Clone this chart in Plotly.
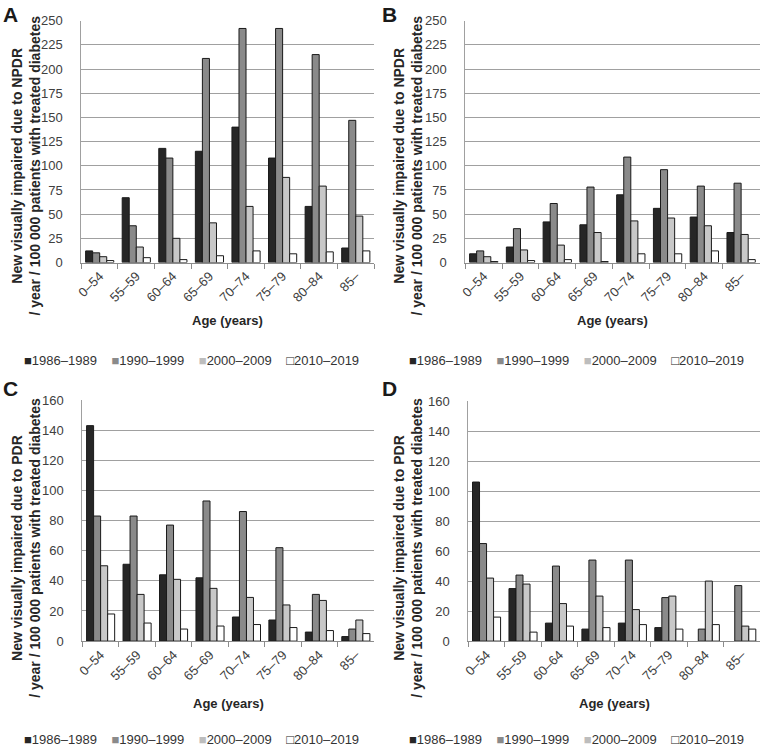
import plotly.graph_objects as go

# ---------------- data ----------------
age_groups = ["0–54", "55–59", "60–64", "65–69", "70–74", "75–79", "80–84", "85–"]
periods = ["1986–1989", "1990–1999", "2000–2009", "2010–2019"]

# Panel A: NPDR
a_1986_1989 = [12, 67, 118, 115, 140, 108, 58, 15]
a_1990_1999 = [10, 38, 108, 211, 242, 242, 215, 147]
a_2000_2009 = [6, 16, 25, 41, 58, 88, 79, 48]
a_2010_2019 = [2, 5, 3, 7, 12, 9, 11, 12]

# Panel B: NPDR
b_1986_1989 = [9, 16, 42, 39, 70, 56, 47, 31]
b_1990_1999 = [12, 35, 61, 78, 109, 96, 79, 82]
b_2000_2009 = [6, 13, 18, 31, 43, 46, 38, 29]
b_2010_2019 = [1, 2, 3, 1, 9, 9, 12, 3]

# Panel C: PDR
c_1986_1989 = [143, 51, 44, 42, 16, 14, 6, 3]
c_1990_1999 = [83, 83, 77, 93, 86, 62, 31, 8]
c_2000_2009 = [50, 31, 41, 35, 29, 24, 27, 14]
c_2010_2019 = [18, 12, 8, 10, 11, 9, 7, 5]

# Panel D: PDR
d_1986_1989 = [106, 35, 12, 8, 12, 9, None, None]
d_1990_1999 = [65, 44, 50, 54, 54, 29, 8, 37]
d_2000_2009 = [42, 38, 25, 30, 21, 30, 40, 10]
d_2010_2019 = [16, 6, 10, 9, 11, 8, 11, 8]

panel_letters = ["A", "B", "C", "D"]
y_titles = [
    "New visually impaired due to NPDR<br>/ year / 100 000 patients with treated diabetes",
    "New visually impaired due to NPDR<br>/ year / 100 000 patients with treated diabetes",
    "New visually impaired due to PDR<br>/ year / 100 000 patients with treated diabetes",
    "New visually impaired due to PDR<br>/ year / 100 000 patients with treated diabetes",
]
x_title = "Age (years)"
y_ranges = [[0, 250], [0, 250], [0, 160], [0, 160]]
y_dticks = [25, 25, 20, 20]

# ---------------- styling ----------------
W, H = 760, 753
bar_colors = ["#262626", "#8a8a8a", "#c8c8c8", "#ffffff"]
legend_glyph_colors = ["#262626", "#8a8a8a", "#bdbdbd", "#262626"]
legend_glyphs = ["■", "■", "■", "□"]
FONT = "Liberation Sans, Arial, sans-serif"
TXT = "#333333"

# panel pixel boxes: (left, right, top, bottom)
boxes = [
    (76, 371, 14, 260.7),
    (463, 759.5, 14, 260.7),
    (77, 371, 401, 647),
    (466, 760, 402, 647),
]
ytitle_pos = [(20, 162), (405, 162), (20, 552), (405, 552)]
letter_pos = [(0, 0), (382, 0), (0, 382), (382, 382)]
xtitle_y = [320, 320, 711, 711]
legend_pos = [(187, 361), (575, 361), (187, 747), (575, 747)]

panels = [
    [a_1986_1989, a_1990_1999, a_2000_2009, a_2010_2019],
    [b_1986_1989, b_1990_1999, b_2000_2009, b_2010_2019],
    [c_1986_1989, c_1990_1999, c_2000_2009, c_2010_2019],
    [d_1986_1989, d_1990_1999, d_2000_2009, d_2010_2019],
]

fig = go.Figure()
annotations = []
layout_axes = {}

for i, series in enumerate(panels):
    n = "" if i == 0 else str(i + 1)
    xa, ya = "x" + n, "y" + n
    for j, vals in enumerate(series):
        fig.add_trace(go.Bar(
            x=age_groups, y=vals, name=periods[j],
            marker=dict(color=bar_colors[j], line=dict(color="#1a1a1a", width=1)),
            xaxis=xa, yaxis=ya, showlegend=False,
        ))
    l, r, t, b = boxes[i]
    layout_axes["xaxis" + n] = dict(
        domain=[l / W, r / W], anchor=ya, type="category",
        showline=True, linecolor="#8c8c8c", linewidth=1,
        ticks="outside", tickson="boundaries", ticklen=5, tickcolor="#8c8c8c",
        tickangle=-45, tickfont=dict(family=FONT, size=13, color="#404040"),
        showgrid=False, zeroline=False, fixedrange=True,
    )
    layout_axes["yaxis" + n] = dict(
        domain=[1 - b / H, 1 - t / H], anchor=xa,
        range=y_ranges[i], dtick=y_dticks[i], tick0=0,
        showgrid=True, gridcolor="#a0a0a0", gridwidth=1,
        showline=True, linecolor="#a0a0a0", linewidth=1,
        ticks="", ticklabelstandoff=15,
        tickfont=dict(family=FONT, size=13, color="#404040"),
        zeroline=False, fixedrange=True,
    )
    # y title
    yx, yy = ytitle_pos[i]
    annotations.append(dict(
        text="<b>" + y_titles[i].replace("<br>", "</b><br><b>") + "</b>",
        textangle=-90, x=yx / W, y=1 - yy / H, xref="paper", yref="paper",
        xanchor="center", yanchor="middle", showarrow=False,
        font=dict(family=FONT, size=14, color="#262626"),
    ))
    # panel letter
    lx, ly = letter_pos[i]
    annotations.append(dict(
        text="<b>" + panel_letters[i] + "</b>", x=lx / W, y=1 - ly / H,
        xref="paper", yref="paper", xanchor="left", yanchor="top",
        xshift=-5, yshift=6,
        showarrow=False, font=dict(family=FONT, size=21, color="#1a1a1a"),
    ))
    # x title
    annotations.append(dict(
        text="<b>" + x_title + "</b>", x=0.5, y=1 - xtitle_y[i] / H,
        xref=xa + " domain", yref="paper", xanchor="center", yanchor="middle",
        showarrow=False, font=dict(family=FONT, size=13, color="#262626"),
    ))
    # legend (one row of glyph + label entries)
    parts = []
    for j, p in enumerate(periods):
        parts.append('<span style="color:%s">%s</span>%s'
                     % (legend_glyph_colors[j], legend_glyphs[j], p))
    gx, gy = legend_pos[i]
    annotations.append(dict(
        text="\u00a0\u00a0\u00a0\u00a0".join(parts), x=gx / W, y=1 - gy / H,
        xref="paper", yref="paper", xanchor="center", yanchor="middle",
        showarrow=False, font=dict(family=FONT, size=13, color=TXT),
    ))

fig.update_layout(
    width=W, height=H, margin=dict(l=0, r=0, t=0, b=0),
    paper_bgcolor="white", plot_bgcolor="white",
    barmode="group", bargap=0.23, bargroupgap=0,
    showlegend=False, annotations=annotations,
    font=dict(family=FONT, color=TXT),
    **layout_axes,
)

fig.write_html("out.html", config={"displayModeBar": False},
               post_script="document.body.style.margin='0';document.body.style.overflow='hidden';")
